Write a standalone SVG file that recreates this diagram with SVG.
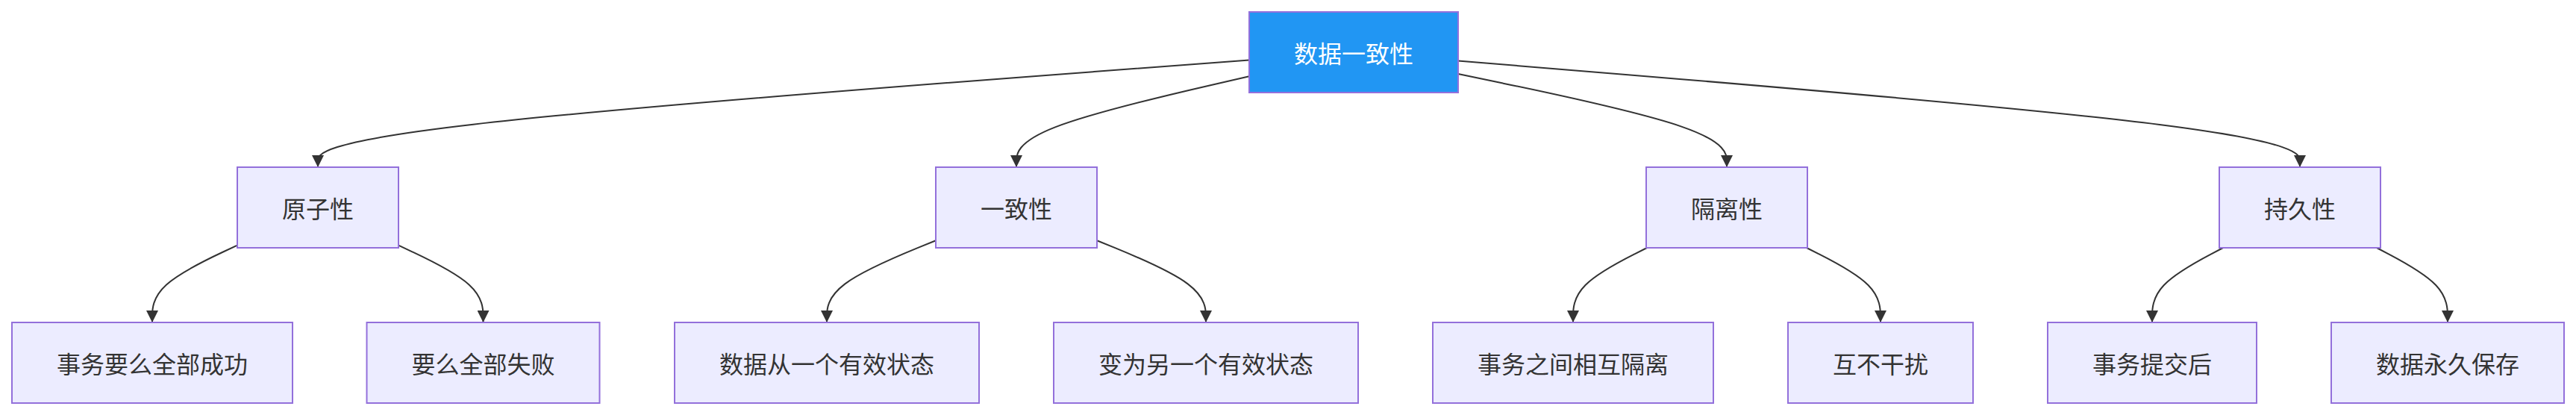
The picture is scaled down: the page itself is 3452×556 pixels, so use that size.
<svg xmlns="http://www.w3.org/2000/svg" width="3452" height="556" viewBox="0 0 3452 556">
<style>
.node rect{fill:#ECECFF;stroke:#9370DB;stroke-width:2}
.node text{font-family:"Noto Sans CJK SC","Liberation Sans",sans-serif;font-size:32px;fill:#333;text-anchor:middle;dominant-baseline:central}
#root rect{fill:#2196F3}
#root text{fill:#ffffff}
.edge{fill:none;stroke:#333;stroke-width:2;marker-end:url(#arrow)}
</style>
<defs>
<marker id="arrow" viewBox="0 0 10 10" refX="10" refY="5" markerUnits="userSpaceOnUse" markerWidth="16" markerHeight="16" orient="auto">
<path d="M0,0 L10,5 L0,10 z" fill="#333"/>
</marker>
</defs>
<rect width="3452" height="556" fill="#ffffff"/>
<g id="connectors">
<path class="edge" d="M1674,80.5 L1466,96.08 C1258,111.67 842,142.83 634,166.75 C426,190.67 426,207.33 426,215.67 L426,224"/>
<path class="edge" d="M1674,102.2 L1622,114.17 C1570,126.13 1466,150.07 1414,170.37 C1362,190.67 1362,207.33 1362,215.67 L1362,224"/>
<path class="edge" d="M1954,99.1 L2014,111.58 C2074,124.07 2194,149.03 2254,169.85 C2314,190.67 2314,207.33 2314,215.67 L2314,224"/>
<path class="edge" d="M1954,81.5 L2142,96.92 C2330,112.33 2706,143.17 2894,166.92 C3082,190.67 3082,207.33 3082,215.67 L3082,224"/>
<path class="edge" d="M318,328.6 L299,337.5 C280,346.4 242,364.2 223,381.43 C204,398.67 204,415.33 204,423.67 L204,432"/>
<path class="edge" d="M534,328.7 L552.92,337.58 C571.83,346.47 609.67,364.23 628.58,381.45 C647.5,398.67 647.5,415.33 647.5,423.67 L647.5,432"/>
<path class="edge" d="M1254,322.2 L1229.67,332.17 C1205.33,342.13 1156.67,362.07 1132.33,380.37 C1108,398.67 1108,415.33 1108,423.67 L1108,432"/>
<path class="edge" d="M1470,322.2 L1494.33,332.17 C1518.67,342.13 1567.33,362.07 1591.67,380.37 C1616,398.67 1616,415.33 1616,423.67 L1616,432"/>
<path class="edge" d="M2207,332 L2190.5,340.33 C2174,348.67 2141,365.33 2124.5,382 C2108,398.67 2108,415.33 2108,423.67 L2108,432"/>
<path class="edge" d="M2421,332 L2437.5,340.33 C2454,348.67 2487,365.33 2503.5,382 C2520,398.67 2520,415.33 2520,423.67 L2520,432"/>
<path class="edge" d="M2979,332 L2963.17,340.33 C2947.33,348.67 2915.67,365.33 2899.83,382 C2884,398.67 2884,415.33 2884,423.67 L2884,432"/>
<path class="edge" d="M3185,332 L3200.83,340.33 C3216.67,348.67 3248.33,365.33 3264.17,382 C3280,398.67 3280,415.33 3280,423.67 L3280,432"/>
</g>
<g id="root" class="node"><rect x="1674" y="16" width="280" height="108"/><text x="1814" y="70">数据一致性</text></g>
<g id="atomicity" class="node"><rect x="318" y="224" width="216" height="108"/><text x="426" y="278">原子性</text></g>
<g id="consistency" class="node"><rect x="1254" y="224" width="216" height="108"/><text x="1362" y="278">一致性</text></g>
<g id="isolation" class="node"><rect x="2206" y="224" width="216" height="108"/><text x="2314" y="278">隔离性</text></g>
<g id="durability" class="node"><rect x="2974" y="224" width="216" height="108"/><text x="3082" y="278">持久性</text></g>
<g id="a1" class="node"><rect x="16" y="432" width="376" height="108"/><text x="204" y="486">事务要么全部成功</text></g>
<g id="a2" class="node"><rect x="491.5" y="432" width="312" height="108"/><text x="647.5" y="486">要么全部失败</text></g>
<g id="c1" class="node"><rect x="904" y="432" width="408" height="108"/><text x="1108" y="486">数据从一个有效状态</text></g>
<g id="c2" class="node"><rect x="1412" y="432" width="408" height="108"/><text x="1616" y="486">变为另一个有效状态</text></g>
<g id="i1" class="node"><rect x="1920" y="432" width="376" height="108"/><text x="2108" y="486">事务之间相互隔离</text></g>
<g id="i2" class="node"><rect x="2396" y="432" width="248" height="108"/><text x="2520" y="486">互不干扰</text></g>
<g id="d1" class="node"><rect x="2744" y="432" width="280" height="108"/><text x="2884" y="486">事务提交后</text></g>
<g id="d2" class="node"><rect x="3124" y="432" width="312" height="108"/><text x="3280" y="486">数据永久保存</text></g>
</svg>
